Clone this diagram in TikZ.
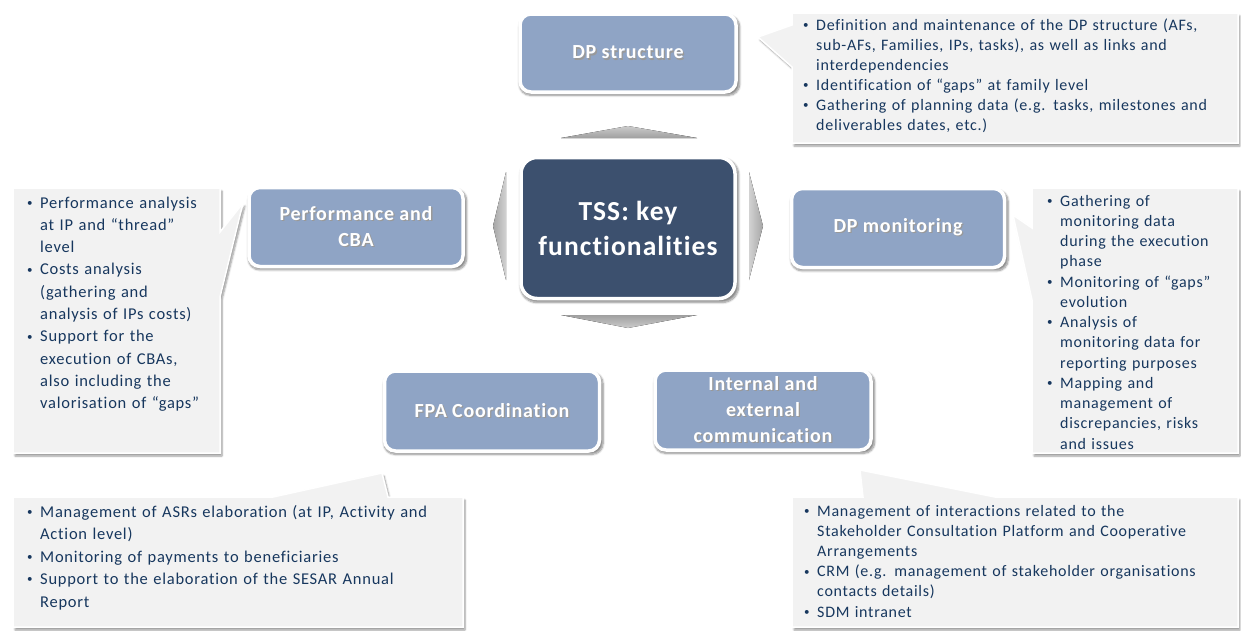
\documentclass[tikz,border=0pt]{standalone}
\usepackage{fontspec}
\setmainfont{Carlito}[Ligatures=NoCommon]
\newfontfamily\callfont{Carlito}[Ligatures=NoCommon, LetterSpace=4.5]
\newfontfamily\boxfont{Carlito}[Ligatures=NoCommon, LetterSpace=4]
\usetikzlibrary{shadows.blur}
\definecolor{boxblue}{RGB}{143,164,197}
\definecolor{coreblue}{RGB}{60,80,110}
\definecolor{callfill}{RGB}{242,242,242}
\definecolor{navy}{RGB}{23,55,94}
\newcommand\fitm{\noindent\hangindent=13pt\hangafter=1\makebox[13pt][l]{\raisebox{1.6pt}{\fontsize{11}{11}\selectfont\textbullet}}}
\newcommand\itm{\par\fitm}
\newcommand\sh[1]{\makebox[0pt][l]{\kern1.3pt\raisebox{-1.3pt}{\textcolor{black!40}{#1}}}#1}
\begin{document}
\begin{tikzpicture}[x=1pt,y=-1pt,
  fbox/.style={draw=white, line width=3.5pt, fill=boxblue, rounded corners=11pt,
    text=white, font=\boxfont\bfseries\fontsize{20}{26}\selectfont, align=center,
    blur shadow={shadow xshift=1.5pt, shadow yshift=-2.5pt, shadow scale=1.02, shadow blur steps=8, shadow opacity=45}},
  corebox/.style={fbox, fill=coreblue, rounded corners=16pt, font=\boxfont\bfseries\fontsize{27.5}{35}\selectfont},
  callout/.style={fill=callfill, draw=white, line width=1.5pt,
    blur shadow={shadow xshift=2pt, shadow yshift=-3pt, shadow blur steps=6, shadow opacity=40}},
  calltext/.style={anchor=base west, inner sep=0pt, align=left, text=navy},
  vtri/.style={top color=gray!40, bottom color=gray!75},
  htri/.style={left color=gray!70, right color=gray!35},
]
\useasboundingbox (0,0) rectangle (1241,630);

% callout shapes
\path[callout] (792,13) -- (1238,13) -- (1238,143) -- (792,143) -- (792,67) -- (758,37) -- (792,25) -- cycle;
\path[callout] (13,188) -- (220,188) -- (220,232) -- (243,203) -- (220,297) -- (220,453) -- (13,453) -- cycle;
\path[callout] (1032,188) -- (1238,188) -- (1238,453) -- (1032,453) -- (1032,300) -- (1013,215) -- (1032,228) -- cycle;
\path[callout] (13,497) -- (273,497) -- (382,473) -- (388,497) -- (463,497) -- (463,627) -- (13,627) -- cycle;
\path[callout] (792,497) -- (863,497) -- (860,470) -- (995,497) -- (1238,497) -- (1238,627) -- (792,627) -- cycle;

% triangles
\fill[vtri] (561,138) -- (628,126) -- (697,138) -- cycle;
\fill[top color=gray!75, bottom color=gray!40] (561,315) -- (697,315) -- (628,328) -- cycle;
\fill[htri] (506,172) -- (493,226) -- (506,280) -- cycle;
\fill[left color=gray!35, right color=gray!70] (749,172) -- (763,226) -- (749,280) -- cycle;

% boxes
\node[fbox, minimum width=216pt, minimum height=78pt] (dps) at (628,53) {\sh{DP structure}};
\node[corebox, minimum width=214pt, minimum height=141pt] (core) at (628,228) {TSS: key\\functionalities};
\node[fbox, minimum width=214pt, minimum height=79pt] (perf) at (356,227) {\sh{Performance and}\\\sh{CBA}};
\node[fbox, minimum width=213pt, minimum height=79pt] (mon) at (898,228) {\sh{DP monitoring}};
\node[fbox, minimum width=215pt, minimum height=80pt] (fpa) at (492,411) {\sh{FPA Coordination}};
\node[fbox, minimum width=216pt, minimum height=80pt] (iec) at (763,410) {\sh{Internal and}\\\sh{external}\\\sh{communication}};

% callout texts
\node[calltext, font=\callfont\fontsize{16}{20}\selectfont, text width=440pt] (trtext) at (803,30)
 {\fitm Definition and maintenance of the DP structure (AFs,\newline sub-AFs, Families, IPs, tasks), as well as links and\newline interdependencies
  \itm Identification of “gaps” at family level
  \itm Gathering of planning data (e.g. tasks, milestones and\newline deliverables dates, etc.)\par};
\node[calltext, font=\callfont\fontsize{16.5}{22.3}\selectfont, text width=200pt] (lttext) at (27,208)
 {\fitm Performance analysis\newline at IP and “thread”\newline level
  \itm Costs analysis\newline (gathering and\newline analysis of IPs costs)
  \itm Support for the\newline execution of CBAs,\newline also including the\newline valorisation of “gaps”\par};
\node[calltext, font=\callfont\fontsize{16}{20.25}\selectfont, text width=200pt] (rttext) at (1047,206)
 {\fitm Gathering of\newline monitoring data\newline during the execution\newline phase
  \itm Monitoring of “gaps”\newline evolution
  \itm Analysis of\newline monitoring data for\newline reporting purposes
  \itm Mapping and\newline management of\newline discrepancies, risks\newline and issues\par};
\node[calltext, font=\callfont\fontsize{16.5}{22.5}\selectfont, text width=440pt] (bltext) at (27,517)
 {\fitm Management of ASRs elaboration (at IP, Activity and\newline Action level)
  \itm Monitoring of payments to beneficiaries
  \itm Support to the elaboration of the SESAR Annual\newline Report\par};
\node[calltext, font=\callfont\fontsize{16}{20.2}\selectfont, text width=440pt] (brtext) at (804,516)
 {\fitm Management of interactions related to the\newline Stakeholder Consultation Platform and Cooperative\newline Arrangements
  \itm CRM (e.g. management of stakeholder organisations\newline contacts details)
  \itm SDM intranet\par};
\end{tikzpicture}
\end{document}
